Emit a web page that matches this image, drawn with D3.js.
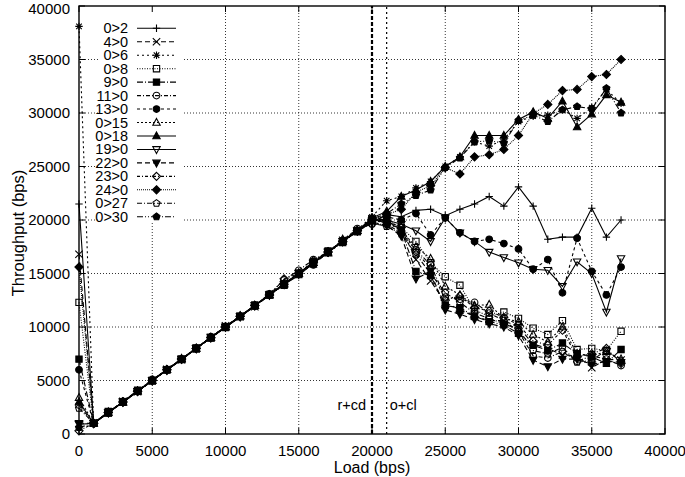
<!DOCTYPE html>
<html><head><meta charset="utf-8">
<script src="https://cdn.jsdelivr.net/npm/d3@7"></script>
<style>
body{margin:0;background:#fff}
svg{display:block}
text{font-family:"Liberation Sans",Arial,Helvetica,sans-serif;fill:#000}
</style></head>
<body>
<script>
// ---- data ----
const loads = [0,1000,2000,3000,4000,5000,6000,7000,8000,9000,10000,11000,12000,13000,14000,15000,16000,17000,18000,19000,20000,21000,22000,23000,24000,25000,26000,27000,28000,29000,30000,31000,32000,33000,34000,35000,36000,37000];
const seriesNames = ["0>2","4>0","0>6","0>8","9>0","11>0","13>0","0>15","0>18","19>0","22>0","23>0","24>0","0>27","0>30"];
const s_0_2  = [21500,1000,2050,2950,4000,5050,6000,6900,8000,9050,10000,10900,12000,13100,14000,14800,16000,17100,18000,18900,19800,20500,20300,20900,21000,20400,21000,21500,22200,21300,23100,21300,18200,18400,18400,21100,18400,20000];
const s_4_0  = [16800,1050,2000,3050,3950,5000,6050,6950,8000,9000,10100,11000,11900,13000,14050,15000,15900,17000,18100,19000,20100,19700,19200,16300,14300,12300,11600,11000,10600,10600,10000,8400,8000,7400,7300,6200,7000,6900];
const s_0_6  = [38100,950,2000,2950,4050,5000,5950,7050,8000,8950,10000,11050,12000,12950,14000,15100,16000,16900,18000,19100,20300,21800,22200,23000,23600,25000,25900,27300,26900,27500,29200,29700,29800,30300,29500,30500,32200,30900];
const s_0_8  = [12300,1000,2100,3000,4000,4950,6000,7000,7950,9000,10000,10950,12000,13050,13900,15000,16100,17000,17900,19000,20000,20000,19300,18000,16000,14700,13900,11600,11000,11400,10800,9900,9300,10600,7900,8000,7800,9600];
const s_9_0  = [7000,1000,1950,3000,4100,5000,6000,6950,8050,9000,9950,11000,12050,13000,14000,14900,16000,17100,18000,18900,20100,20000,19000,15200,14800,12000,11800,11000,10500,10200,9400,8300,7800,8500,7500,7200,6600,7900];
const s_11_0 = [2700,1000,2000,3050,4000,5100,6000,7000,8000,9100,10000,11000,12000,13100,14400,15300,16300,17000,18100,19200,19600,19600,18800,17200,15800,12800,12600,12300,11300,10600,9600,7300,7100,7700,6800,7300,7000,6400];
const s_13_0 = [6000,950,2000,3000,3950,5000,6050,7000,8000,9000,10050,11000,11950,13000,14000,15000,15800,17000,18000,19000,20000,20300,20000,20600,18600,20200,18800,18000,18200,17800,17300,15400,16300,13200,18300,15200,13000,15600];
const s_0_15 = [3400,1000,2050,2950,4000,5000,6000,7050,8000,9000,10000,11050,12000,13000,14100,15000,16000,16900,18200,19000,19900,19800,19000,17500,16400,13800,13000,12000,12100,10800,10500,9300,8600,10000,7500,7300,7700,7000];
const s_0_18 = [3000,1000,2000,3000,4000,5000,6000,7000,8000,9000,10000,11000,12000,13000,14000,15000,16000,17000,18000,19000,20200,20800,22200,22800,23600,25000,25900,27900,27900,27900,29400,30100,29500,31100,28700,29900,31700,31000];
const s_19_0 = [900,1000,2000,3000,4000,5000,5950,7000,8000,9050,10000,10950,12000,13000,14000,15050,16000,17000,18000,19000,19900,20000,19600,19000,18000,20200,18800,18000,17000,16500,16000,15400,15300,13800,16100,15000,11400,16400];
const s_22_0 = [1000,1000,2000,3000,4000,5000,6000,7000,8000,9000,10000,11000,12000,13000,14000,15000,16000,17000,18000,19000,19800,19500,18500,14500,15200,11600,11200,10700,10300,10000,9200,6900,6300,7000,7000,6500,6800,6700];
const s_23_0 = [300,1000,2000,3000,4000,5000,6000,7000,8000,9000,10000,11000,12000,13000,14500,15000,16200,17000,18000,19000,20000,19900,19300,17000,15500,12500,12900,11800,11500,10900,10200,8700,8300,9700,7200,7500,8000,6600];
const s_24_0 = [15600,1000,2000,3000,4000,5000,6000,7000,8000,9000,10000,11000,12000,13000,14000,15000,16000,17000,18000,19000,20000,20500,21000,22600,23200,24900,24300,25900,26100,26600,27900,29950,30800,32100,32200,33400,33600,35000];
const s_0_27 = [2400,1000,2000,3000,4000,5000,6000,7000,8000,9000,10000,11000,12000,13000,14000,15000,16000,17000,18000,19000,19700,19400,18700,16800,15000,13200,12300,11300,10800,10300,9800,7800,7500,8100,6700,6900,7800,6800];
const s_0_30 = [600,1000,2000,3000,4000,5000,6000,7000,8000,9000,10000,11000,12000,13000,14000,15000,16000,17000,18000,19000,20100,20600,21500,22300,22800,24900,25800,27300,27400,27200,29300,29800,29200,30300,30600,30400,32300,30000];
const seriesValues = [s_0_2,s_4_0,s_0_6,s_0_8,s_9_0,s_11_0,s_13_0,s_0_15,s_0_18,s_19_0,s_22_0,s_23_0,s_24_0,s_0_27,s_0_30];
const xTicks = [0,5000,10000,15000,20000,25000,30000,35000,40000];
const yTicks = [0,5000,10000,15000,20000,25000,30000,35000,40000];
const markers = [{x:20000,label:"r+cd",side:"left"},{x:21000,label:"o+cl",side:"right"}];

// ---- styles ----
const dashes = ["", "5,3", "2,3", "1,1.5", "6,2,1,2", "4,2,1,2", "3,3", "2,2", "", "", "5,3", "3,2,1,2", "1,1", "5,2,1,2", "6,2,1,2,1,2"];
const symbols = ["plus","x","star","square","squareF","circle","circleF","tri","triF","itri","itriF","diamond","diamondF","pent","pentF"];

const W=685,H=477, m={l:79,r:20,t:6,b:43};
const svg=d3.select("body").append("svg").attr("width",W).attr("height",H);
const x=d3.scaleLinear().domain([0,40000]).range([m.l,W-m.r]);
const y=d3.scaleLinear().domain([0,40000]).range([H-m.b,m.t]);

function symPath(t,s){
  const base=t.replace("F","");
  switch(base){
    case "plus": return `M${-s},0H${s}M0,${-s}V${s}`;
    case "x": return `M${-s},${-s}L${s},${s}M${-s},${s}L${s},${-s}`;
    case "star": return `M${-s},0H${s}M0,${-s}V${s}M${-s*0.75},${-s*0.75}L${s*0.75},${s*0.75}M${-s*0.75},${s*0.75}L${s*0.75},${-s*0.75}`;
    case "square": return `M${-s*0.85},${-s*0.85}H${s*0.85}V${s*0.85}H${-s*0.85}Z`;
    case "circle": return `M${s*0.9},0A${s*0.9},${s*0.9},0,1,1,${-s*0.9},0A${s*0.9},${s*0.9},0,1,1,${s*0.9},0Z`;
    case "tri": return `M0,${-s*1.1}L${s},${s*0.75}L${-s},${s*0.75}Z`;
    case "itri": return `M0,${s*1.1}L${s},${-s*0.75}L${-s},${-s*0.75}Z`;
    case "diamond": return `M0,${-s*1.1}L${s*1.1},0L0,${s*1.1}L${-s*1.1},0Z`;
    case "pent": {
      let p=[];for(let i=0;i<5;i++){const a=-Math.PI/2+i*2*Math.PI/5;p.push([s*Math.cos(a),s*Math.sin(a)]);}
      return "M"+p.map(d=>d[0].toFixed(2)+","+d[1].toFixed(2)).join("L")+"Z";
    }
  }
}
function drawSym(g,t,cx,cy){
  const filled=t.endsWith("F");
  g.append("path").attr("d",symPath(t,3.7)).attr("transform",`translate(${cx},${cy})`)
   .attr("fill",filled?"#000":"none").attr("stroke","#000").attr("stroke-width",1.1);
}

// grid
const grid=svg.append("g").attr("stroke","#000").attr("stroke-width",0.8).attr("stroke-dasharray","1,2");
xTicks.slice(1,-1).forEach(v=>grid.append("line").attr("x1",x(v)).attr("x2",x(v)).attr("y1",y(0)).attr("y2",y(40000)));
yTicks.slice(1,-1).forEach(v=>grid.append("line").attr("x1",x(0)).attr("x2",x(40000)).attr("y1",y(v)).attr("y2",y(v)));

// key background
svg.append("rect").attr("x",100).attr("y",m.t+1).attr("width",83).attr("height",216).attr("fill","#fff");

// vertical markers
markers.forEach((mk,i)=>{
  svg.append("line").attr("x1",x(mk.x)).attr("x2",x(mk.x)).attr("y1",y(0)).attr("y2",y(40000))
    .attr("stroke","#000").attr("stroke-width",i==0?2.2:1.2).attr("stroke-dasharray",i==0?"4,2":"2,3");
  svg.append("text").attr("x",mk.side=="left"?x(mk.x)-6:x(mk.x)+3).attr("y",y(2700)+5)
    .attr("text-anchor",mk.side=="left"?"end":"start").attr("font-size",14.5).text(mk.label);
});

// series
const line=d3.line().x((d,i)=>x(loads[i])).y(d=>y(d));
seriesValues.forEach((vals,k)=>{
  const g=svg.append("g");
  g.append("path").attr("d",line(vals)).attr("fill","none").attr("stroke","#000").attr("stroke-width",1.1)
    .attr("stroke-dasharray",dashes[k]||null);
  vals.forEach((v,i)=>drawSym(g,symbols[k],x(loads[i]),y(v)));
});

// legend
seriesNames.forEach((n,k)=>{
  const yy=28.3+k*13.46;
  svg.append("text").attr("x",128).attr("y",yy+5).attr("text-anchor","end").attr("font-size",14.5).text(n);
  svg.append("line").attr("x1",137).attr("x2",176).attr("y1",yy).attr("y2",yy).attr("stroke","#000").attr("stroke-width",1.1)
    .attr("stroke-dasharray",dashes[k]||null);
  drawSym(svg,symbols[k],156.5,yy);
});

// frame & ticks
svg.append("rect").attr("x",x(0)).attr("y",y(40000)).attr("width",x(40000)-x(0)).attr("height",y(0)-y(40000))
  .attr("fill","none").attr("stroke","#000").attr("stroke-width",1.4);
const tk=svg.append("g").attr("stroke","#000").attr("stroke-width",1);
xTicks.forEach(v=>{tk.append("line").attr("x1",x(v)).attr("x2",x(v)).attr("y1",y(0)).attr("y2",y(0)-6);
  tk.append("line").attr("x1",x(v)).attr("x2",x(v)).attr("y1",y(40000)).attr("y2",y(40000)+6);});
yTicks.forEach(v=>{tk.append("line").attr("x1",x(0)).attr("x2",x(0)+6).attr("y1",y(v)).attr("y2",y(v));
  tk.append("line").attr("x1",x(40000)).attr("x2",x(40000)-6).attr("y1",y(v)).attr("y2",y(v));});
xTicks.forEach(v=>svg.append("text").attr("x",x(v)).attr("y",y(0)+22).attr("text-anchor","middle").attr("font-size",15).text(v));
yTicks.forEach(v=>svg.append("text").attr("x",x(0)-9).attr("y",Math.max(y(v)+5,14)).attr("text-anchor","end").attr("font-size",15).text(v));

svg.append("text").attr("x",x(20000)).attr("y",473).attr("text-anchor","middle").attr("font-size",16).text("Load (bps)");
svg.append("text").attr("transform",`translate(24,233) rotate(-90)`).attr("text-anchor","middle").attr("font-size",16.5).text("Throughput (bps)");
</script>
</body></html>
